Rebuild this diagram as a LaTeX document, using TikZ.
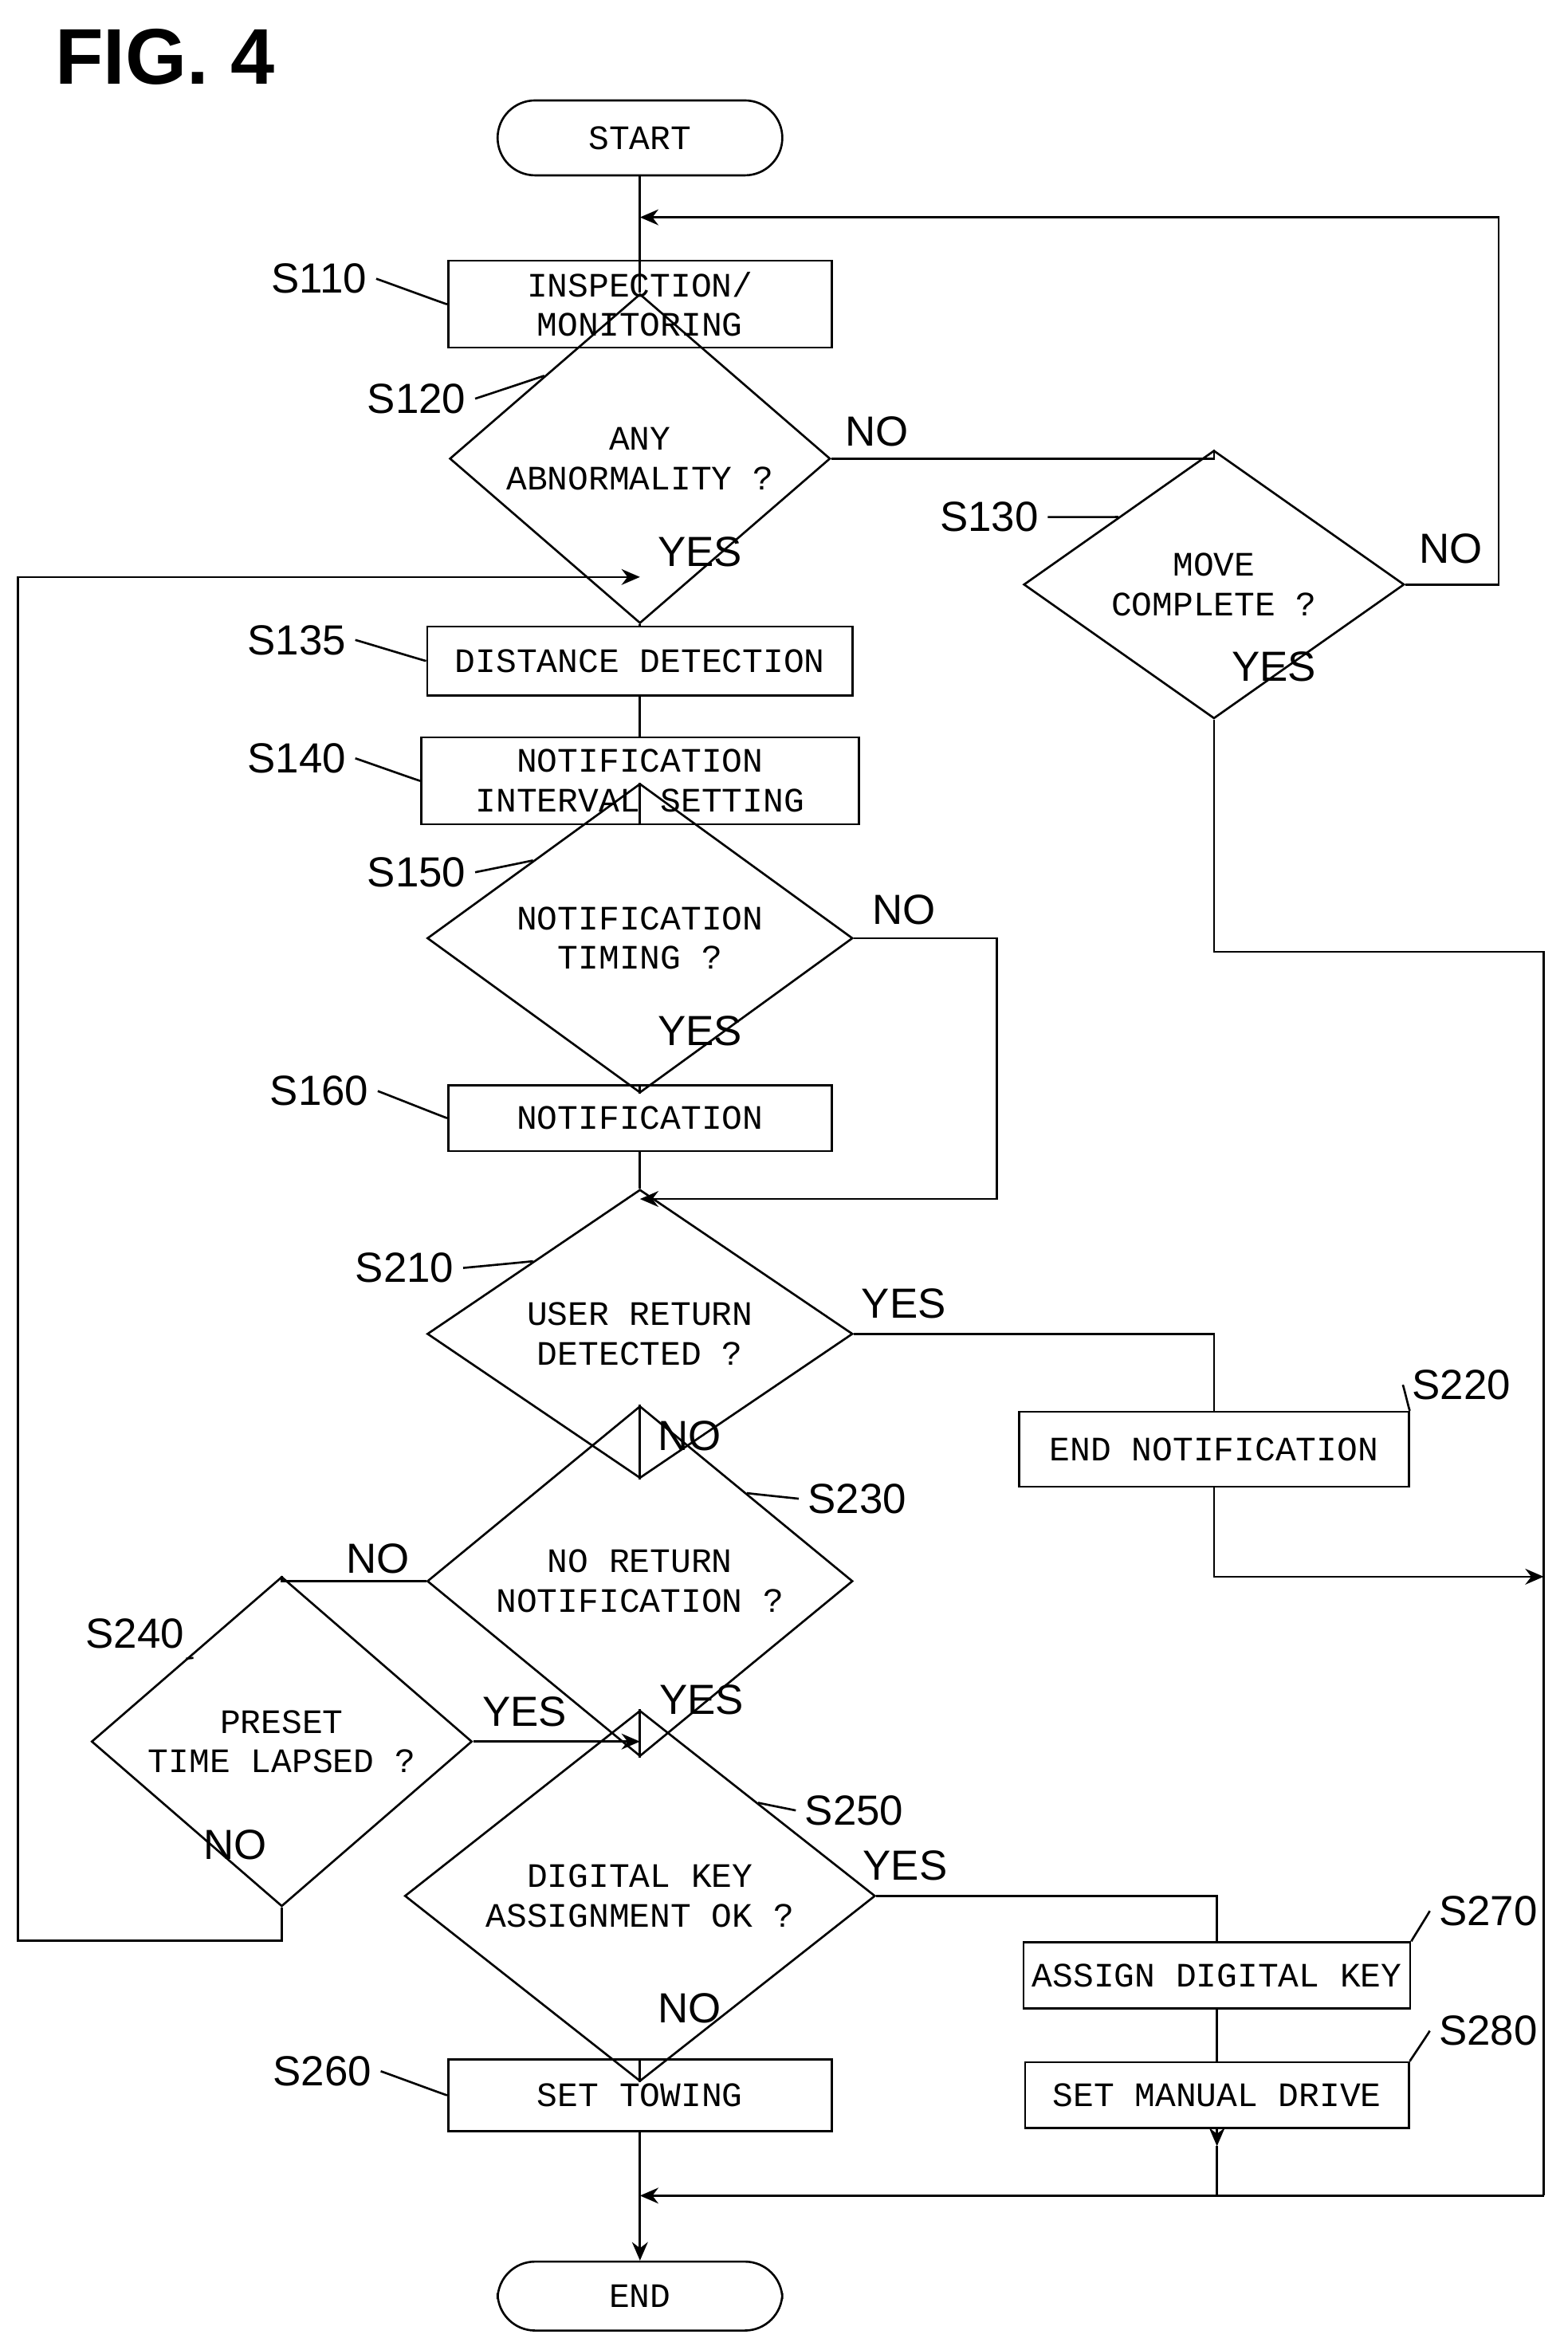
\documentclass[tikz,border=0pt]{standalone}
\usepackage{fontspec}
\setmainfont{Liberation Sans}
\newfontfamily\boxfont{Liberation Mono}
\usetikzlibrary{shapes.geometric,arrows.meta}

\tikzset{
  box/.style={draw, thick, inner sep=0pt, font=\boxfont\fontsize{13}{15}\selectfont, align=center},
  term/.style={box, rounded corners=0.5cm},
  dec/.style={box, diamond},
  lbl/.style={font=\fontsize{16}{18}\selectfont},
  steplbl/.style={font=\fontsize{16}{18}\selectfont},
  flow/.style={thick},
  arr/.style={thick, -{Stealth[length=7pt,width=6pt]}}
}
\newcommand{\stepmark}[5]{% name, position, text, from anchor, target
  \node[steplbl] (#1) at (#2) {#3};
  \draw[thick] (#1.#4) .. controls +(0.35,-0.05) and +(-0.3,0.15) .. (#5);
}

\begin{document}
\begin{tikzpicture}[x=0.02cm, y=-0.02cm]
\useasboundingbox (0,0) rectangle (1046,1568);
\node[font=\bfseries\fontsize{30}{32}\selectfont] (fig) at (110,38) {FIG. 4};

% nodes
\node[term, minimum width=3.8cm, minimum height=1cm] (start) at (427,92) {START};
\node[box, minimum width=5.12cm, minimum height=1.16cm] (b110) at (427,203) {INSPECTION/\\MONITORING};
\node[dec, minimum width=5.08cm, minimum height=1.8cm] (d120) at (427,306) {ANY\\ABNORMALITY ?};
\node[dec, minimum width=5.08cm, minimum height=1.76cm] (d130) at (810,390) {MOVE\\COMPLETE ?};
\node[box, minimum width=5.68cm, minimum height=0.92cm] (b135) at (427,441) {DISTANCE DETECTION};
\node[box, minimum width=5.84cm, minimum height=1.16cm] (b140) at (427,521) {NOTIFICATION\\INTERVAL SETTING};
\node[dec, minimum width=5.68cm, minimum height=1.84cm] (d150) at (427,626) {NOTIFICATION\\TIMING ?};
\node[box, minimum width=5.12cm, minimum height=0.88cm] (b160) at (427,746) {NOTIFICATION};
\node[dec, minimum width=5.68cm, minimum height=2.08cm] (d210) at (427,890) {USER RETURN\\DETECTED ?};
\node[box, minimum width=5.2cm, minimum height=1cm] (b220) at (810,967) {END NOTIFICATION};
\node[dec, minimum width=5.68cm, minimum height=2.4cm] (d230) at (427,1055) {NO RETURN\\NOTIFICATION ?};
\node[dec, minimum width=5.08cm, minimum height=2.16cm] (d240) at (188,1162) {PRESET\\TIME LAPSED ?};
\node[dec, minimum width=6.28cm, minimum height=2.72cm] (d250) at (427,1265) {DIGITAL KEY\\ASSIGNMENT OK ?};
\node[box, minimum width=5.16cm, minimum height=0.88cm] (b270) at (812,1318) {ASSIGN DIGITAL KEY};
\node[box, minimum width=5.12cm, minimum height=0.88cm] (b280) at (812,1398) {SET MANUAL DRIVE};
\node[box, minimum width=5.12cm, minimum height=0.96cm] (b260) at (427,1398) {SET TOWING};
\node[term, minimum width=3.8cm, minimum height=0.92cm] (end) at (427,1532) {END};

% junction points
\coordinate (j110) at (427,145);
\coordinate (j135) at (427,385);
\coordinate (j210) at (427,800);
\coordinate (j250) at (427,1162);
\coordinate (jend) at (427,1465);
\coordinate (jr220) at (1030,1052);

% connectors
\draw[flow] (start) -- (b110);
\draw[arr] (d130.east) -- (1000,390) |- (j110);
\draw[flow] (b110) -- (d120);
\draw[flow] (d120.east) -| (d130.north);
\draw[flow] (d130.south) |- (1030,635) -- (1030,1465);
\draw[arr] (1030,1465) -- (jend);
\draw[flow] (d120.south) -- (b135);
\draw[arr] (d240.south) -- (188,1295) -- (12,1295) |- (j135);
\draw[flow] (b135) -- (b140);
\draw[flow] (b140) -- (d150);
\draw[flow] (d150) -- (b160);
\draw[arr] (d150.east) -- (665,626) |- (j210);
\draw[flow] (b160) -- (d210);
\draw[flow] (d210.east) -| (b220.north);
\draw[arr] (b220.south) |- (jr220);
\draw[flow] (d210) -- (d230);
\draw[flow] (d230.west) -| (d240.north);
\draw[arr] (d240.east) -- (j250);
\draw[flow] (d230) -- (d250);
\draw[flow] (d250.east) -| (b270.north);
\draw[flow] (b270) -- (b280);
\draw[arr] (b280.south) -- (812,1432);
\draw[flow] (812,1432) -- (812,1465);
\draw[flow] (d250) -- (b260);
\draw[arr] (b260) -- (end);

% branch labels
\node[lbl] at (585,288) {NO};
\node[lbl] at (968,366) {NO};
\node[lbl] at (850,445) {YES};
\node[lbl] at (467,368) {YES};
\node[lbl] at (603,607) {NO};
\node[lbl] at (467,688) {YES};
\node[lbl] at (603,870) {YES};
\node[lbl] at (460,958) {NO};
\node[lbl] at (252,1040) {NO};
\node[lbl] at (350,1142) {YES};
\node[lbl] at (468,1134) {YES};
\node[lbl] at (157,1231) {NO};
\node[lbl] at (604,1245) {YES};
\node[lbl] at (460,1340) {NO};

% step labels
\stepmark{s110}{213,186}{S110}{east}{b110.west}
\stepmark{s120}{278,266}{S120}{east}{d120.north west}
\stepmark{s130}{660,345}{S130}{east}{d130.north west}
\stepmark{s135}{198,427}{S135}{east}{b135.west}
\stepmark{s140}{198,506}{S140}{east}{b140.west}
\stepmark{s150}{278,582}{S150}{east}{d150.north west}
\stepmark{s160}{213,728}{S160}{east}{b160.west}
\stepmark{s210}{270,846}{S210}{east}{d210.north west}
\stepmark{s220}{975,924}{S220}{west}{b220.north east}
\stepmark{s230}{572,1000}{S230}{west}{d230.north east}
\stepmark{s240}{90,1090}{S240}{south east}{d240.north west}
\stepmark{s250}{570,1208}{S250}{west}{d250.north east}
\stepmark{s270}{993,1275}{S270}{west}{b270.north east}
\stepmark{s280}{993,1355}{S280}{west}{b280.north east}
\stepmark{s260}{215,1382}{S260}{east}{b260.west}
\end{tikzpicture}
\end{document}
